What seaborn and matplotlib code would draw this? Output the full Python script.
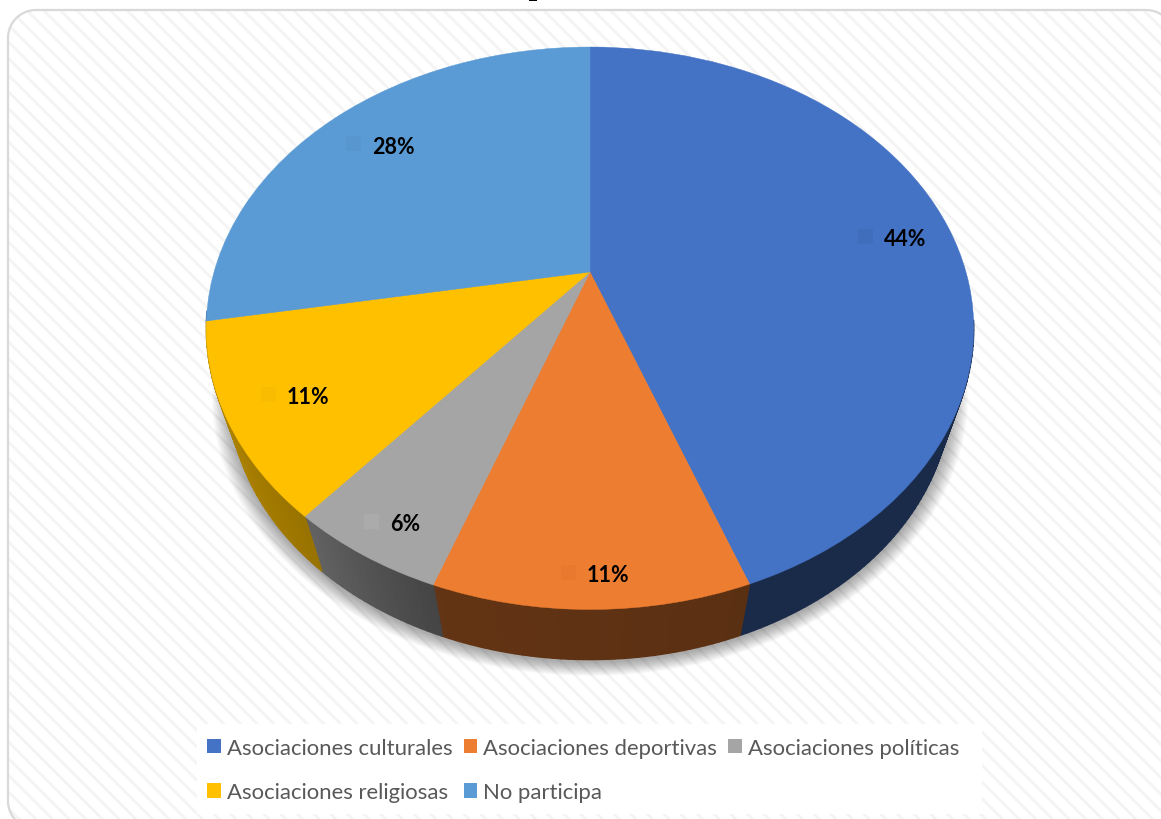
import numpy as np
import matplotlib
matplotlib.use("Agg")
import matplotlib.pyplot as plt
from matplotlib.patches import Patch, Polygon, Rectangle
from matplotlib.transforms import Transform
import seaborn as sns

# Survey shares, in percent
categories = ["Asociaciones culturales", "Asociaciones deportivas", "Asociaciones políticas",
              "Asociaciones religiosas", "No participa"]
shares = [44.4, 11.1, 5.6, 11.1, 27.8]
slice_colors = ["#4472C4", "#ED7D31", "#A5A5A5", "#FFC000", "#5B9BD5"]
key_colors = ["#416DBD", "#E8792F", "#ABABAB", "#FABC00", "#5896D0"]

# Tilted-disc geometry, in figure pixels
CX, CY = 590.0, 273.0
RX, RY = 376.0, 270.0
TILT = 0.2
RIM_SCALE_X, RIM_SCALE_Y, RIM_CY = 0.94, 0.95, 340.0


class TiltedDisc(Transform):
    """Perspective projection of the unit disc onto the page."""
    input_dims = output_dims = 2
    is_separable = False

    def transform_non_affine(self, values):
        values = np.asarray(values, dtype=float)
        w = 1 + TILT * values[:, 1]
        return np.column_stack([CX + RX * values[:, 0] / w, CY - RY * values[:, 1] / w])

    transform = transform_non_affine


def rim(degrees):
    """Lower rim of the disc for angles in degrees."""
    pts = TiltedDisc().transform(np.column_stack([np.cos(np.radians(degrees)),
                                                  np.sin(np.radians(degrees))]))
    return np.column_stack([CX + RIM_SCALE_X * (pts[:, 0] - CX),
                            RIM_CY + RIM_SCALE_Y * (pts[:, 1] - CY)])


def side_shade(clock_angle):
    """Brightness of the side wall, by clockwise angle from twelve o'clock."""
    return np.interp(clock_angle, [100, 160, 200, 220, 260], [0.38, 0.38, 0.42, 0.60, 0.74])


def rounded_outline(x0, y0, x1, y1, r):
    """Closed outline of a rectangle with circular corners."""
    corners = [(x1 - r, y0 + r, -90), (x1 - r, y1 - r, 0), (x0 + r, y1 - r, 90), (x0 + r, y0 + r, 180)]
    parts = []
    for cx, cy, start in corners:
        t = np.radians(np.linspace(start, start + 90, 24))
        parts.append(np.column_stack([cx + r * np.cos(t), cy + r * np.sin(t)]))
    return np.vstack(parts)


sns.set_theme(style="white")
plt.rcParams["font.family"] = ["Lato", "DejaVu Sans"]
plt.rcParams["hatch.linewidth"] = 2.0
palette = sns.color_palette(slice_colors)

fig = plt.figure(figsize=(11.61, 8.20), dpi=100, facecolor="white")
ax = fig.add_axes([0, 0, 1, 1])

wedges, _, pct_texts = ax.pie(shares, colors=palette, startangle=90, counterclock=False,
                              autopct="%.0f%%", radius=1,
                              wedgeprops={"linewidth": 0, "zorder": 4})
ax.set_aspect("auto")
ax.set_xlim(0, 1161)
ax.set_ylim(820, 0)
ax.axis("off")

# Chart area: rounded border over a fine diagonal stripe
area = rounded_outline(8, 11, 1174, 830, 28)
ax.add_patch(Polygon(area, closed=True, facecolor="white", edgecolor="#F4F4F4", hatch="\\\\",
                     linewidth=0, zorder=0))
ax.add_patch(Polygon(area, closed=True, facecolor="none", edgecolor="#D9D9D9", linewidth=1.6, zorder=1))

# Foot of the heading that runs off the top edge
ax.add_patch(Rectangle((529, 0), 8, 1.5, facecolor="black", edgecolor="none", zorder=2))

# Soft shadow under the disc
full_turn = np.linspace(0, 360, 361)
outline = rim(full_turn)
mid_y = outline[:, 1].mean()
for grow in np.arange(18, 0, -1):
    factor = 1 + grow / 370
    shadow = np.column_stack([CX + factor * (outline[:, 0] - CX),
                              mid_y + factor * (outline[:, 1] - mid_y) + 2])
    ax.fill(shadow[:, 0], shadow[:, 1], color="black", alpha=0.02, linewidth=0, zorder=2)

# Side wall: narrow strips along the front of each slice
top_transform = TiltedDisc()
for wedge, base in zip(wedges, palette):
    angles = np.arange(wedge.theta1, wedge.theta2 + 1.0, 1.0)
    angles = np.clip(angles, wedge.theta1, wedge.theta2)
    for a0, a1 in zip(angles[:-1], angles[1:]):
        clock = (90 - (a0 + a1) / 2) % 360
        if not 100 <= clock <= 262:
            continue
        pair = np.array([a0, a1])
        upper = top_transform.transform(np.column_stack([np.cos(np.radians(pair)),
                                                         np.sin(np.radians(pair))]))
        lower = rim(pair)
        poly = np.vstack([upper, lower[::-1]])
        shaded = tuple(c * float(side_shade(clock)) for c in base)
        ax.fill(poly[:, 0], poly[:, 1], facecolor=shaded, edgecolor=shaded,
                linewidth=1.0, zorder=3)

# Top face of the pie
for wedge in wedges:
    wedge.set_transform(top_transform + ax.transData)
    wedge.set_zorder(4)
    wedge.set_linewidth(0.3)
    wedge.set_edgecolor(wedge.get_facecolor())

# Percentage labels, each with a small tinted key
label_anchor = [(884, 240), (587, 576), (390, 525), (287, 398), (372, 147)]
for text, (x, y), key in zip(pct_texts, label_anchor, key_colors):
    text.set_position((x, y))
    text.set(ha="left", va="center", fontsize=15.5, fontweight="bold", color="black", zorder=6)
    ax.add_patch(Rectangle((x - 26, y - 10), 15, 15, facecolor=key, edgecolor="none", zorder=5))

# Legend backing panel
ax.add_patch(Rectangle((197, 725), 785, 90, facecolor="white", edgecolor="none", zorder=5))

# Legend fills columns first, so the entries are listed column by column
order = [0, 3, 1, 4, 2]
handles = [Patch(facecolor=slice_colors[i], edgecolor="none", label=categories[i]) for i in order]
legend = ax.legend(handles=handles, ncols=3, loc="center left", bbox_to_anchor=(207, 771),
                   bbox_transform=ax.transData, frameon=False, fontsize=15.9, labelcolor="#595959",
                   handlelength=0.63, handleheight=0.63, handletextpad=0.27, columnspacing=0.5,
                   labelspacing=1.13, borderpad=0, borderaxespad=0)
legend.set_zorder(6)

fig.savefig("out.png", dpi=100, facecolor="white")
